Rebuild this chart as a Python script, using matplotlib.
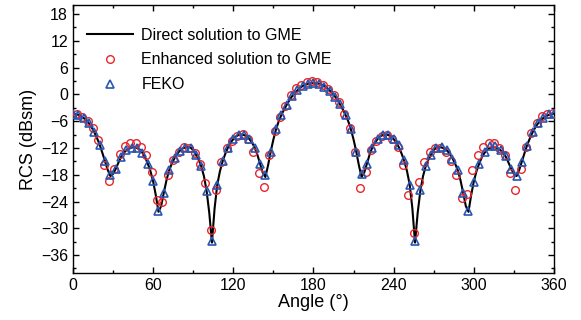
import matplotlib
matplotlib.use("Agg")
import matplotlib.pyplot as plt
from matplotlib.ticker import MultipleLocator

plt.rcParams['font.family'] = ['Liberation Sans', 'DejaVu Sans']

# Direct solution to GME (line), every 2 degrees
line_angle = list(range(0, 362, 2))
line_rcs = [
    -4.3, -4.4, -4.6, -4.9, -5.3, -5.8, -6.5, -7.4, -8.5, -9.8,
    -11.3, -13.1, -15.0, -16.9, -18.3, -17.8, -16.7, -15.3, -14.0, -13.1,
    -12.5, -12.1, -11.9, -11.8, -12.0, -12.4, -13.1, -14.1, -15.5, -17.2,
    -19.5, -22.6, -26.3, -25.0, -22.0, -19.2, -17.0, -15.5, -14.3, -13.3,
    -12.6, -12.1, -11.9, -11.8, -11.9, -12.5, -13.5, -14.6, -16.1, -18.3,
    -21.6, -26.5, -33.2, -25.5, -20.2, -17.2, -15.0, -13.3, -11.9, -10.8,
    -10.0, -9.4, -9.1, -9.0, -9.1, -9.4, -10.0, -10.8, -11.9, -13.5,
    -15.5, -17.5, -18.5, -15.9, -12.8, -10.1, -7.8, -6.0, -4.6, -3.4,
    -2.3, -1.3, -0.4, 0.3, 0.9, 1.5, 1.9, 2.2, 2.4, 2.5,
    2.5,
    2.5, 2.4, 2.2, 1.9, 1.5, 0.9, 0.3, -0.4, -1.3, -2.3,
    -3.4, -4.6, -6.0, -7.8, -10.1, -12.8, -15.9, -18.5, -17.5, -15.5,
    -13.5, -11.9, -10.8, -10.0, -9.4, -9.1, -9.0, -9.1, -9.4, -10.0,
    -10.8, -11.9, -13.3, -15.0, -17.2, -20.2, -25.5, -33.2, -26.5, -21.6,
    -18.3, -16.1, -14.6, -13.5, -12.5, -11.9, -11.8, -11.9, -12.1, -12.6,
    -13.3, -14.3, -15.5, -17.0, -19.2, -22.0, -25.0, -26.3, -22.6, -19.5,
    -17.2, -15.5, -14.1, -13.1, -12.4, -12.0, -11.8, -11.9, -12.1, -12.5,
    -13.1, -14.0, -15.3, -16.7, -17.8, -18.3, -16.9, -15.0, -13.1, -11.3,
    -9.8, -8.5, -7.4, -6.5, -5.8, -5.3, -4.9, -4.6, -4.4, -4.3,
]

# Enhanced solution to GME (circles)
enh_angle = list(range(3, 360, 4))
enh_rcs = [
    -4.5, -5.0, -6.0, -7.6, -10.3, -15.8, -19.4, -16.6, -13.4, -11.5,
    -10.8, -10.9, -11.7, -13.6, -17.3, -23.7, -24.2, -18.1, -14.7, -12.8,
    -11.7, -11.9, -13.2, -15.5, -19.9, -30.4, -21.4, -15.2, -11.9, -10.4,
    -9.3, -8.9, -10.0, -12.8, -17.5, -20.8, -13.5, -8.3, -5.0, -2.6,
    -0.1, 1.4, 2.1, 2.7, 2.9, 2.7, 2.1, 1.2, -0.1, -1.8,
    -4.4, -7.6, -13.0, -21.0, -17.4, -12.5, -10.4, -9.3, -9.1, -10.0,
    -11.8, -15.8, -22.5, -31.1, -19.7, -15.1, -12.9, -11.9, -11.9, -13.0,
    -14.9, -18.1, -23.3, -22.4, -16.9, -13.6, -11.7, -10.8, -10.8, -11.9,
    -13.6, -17.5, -21.4, -16.7, -11.7, -8.7, -6.4, -4.9, -4.4, -4.1,
]

# FEKO (triangles)
feko_angle = list(range(0, 361, 4))
feko_rcs = [
    -4.3, -4.6, -5.3, -6.5, -8.5, -11.3, -15.0, -18.0, -16.7, -14.0,
    -12.5, -11.9, -12.0, -13.1, -15.5, -19.5, -26.2, -22.0, -17.0, -14.3,
    -12.6, -11.9, -11.9, -13.5, -16.1, -21.6, -32.8, -20.2, -15.0, -11.9,
    -10.0, -9.1, -9.1, -10.0, -11.9, -15.5, -18.0, -12.8, -7.8, -4.6,
    -2.3, -0.4, 0.9, 1.9, 2.4, 2.5, 2.3, 1.7, 0.8, -0.6,
    -2.2, -4.6, -7.8, -13.0, -17.9, -15.5, -12.0, -10.0, -9.1, -9.1,
    -9.9, -11.4, -14.7, -20.3, -32.8, -21.4, -16.0, -13.6, -12.1, -11.7,
    -12.4, -14.5, -16.9, -22.1, -26.1, -19.6, -15.6, -13.0, -11.5, -11.5,
    -12.4, -13.9, -16.7, -18.2, -15.1, -11.5, -8.5, -6.4, -5.2, -4.4,
    -4.3,
]

labels = ["Direct solution to GME", "Enhanced solution to GME", "FEKO"]
yticks = [18, 12, 6, 0, -6, -12, -18, -24, -30, -36]
ytick_labels = ["18", "12", "6", "0", "\u22126", "\u221212", "\u221218",
                "\u221224", "\u221230", "\u221236"]
red = "#e8262b"
blue = "#2a56b0"

fig = plt.figure(figsize=(5.81, 3.20), dpi=100)
ax = fig.add_axes([0.1256, 0.147, 0.8279, 0.837])

ax.plot(line_angle, line_rcs, color="black", lw=1.5, label=labels[0], zorder=2)
ax.plot(enh_angle, enh_rcs, ls="none", marker="o", ms=5.5, mfc="none",
        mec=red, mew=1.0, label=labels[1], zorder=3)
ax.plot(feko_angle, feko_rcs, ls="none", marker="^", ms=6, mfc="none",
        mec=blue, mew=1.2, label=labels[2], zorder=4)

ax.set_xlim(0, 360)
ax.set_ylim(-40, 20)
ax.xaxis.set_major_locator(MultipleLocator(60))
ax.xaxis.set_minor_locator(MultipleLocator(30))
ax.yaxis.set_minor_locator(MultipleLocator(3))
ax.set_yticks(yticks)
ax.set_yticklabels(ytick_labels)
ax.tick_params(which="both", direction="in", top=True, right=True,
               labelsize=11.5, width=1, pad=3.5)
ax.tick_params(which="major", length=4.5)
ax.tick_params(which="minor", length=2.5)
for s in ax.spines.values():
    s.set_linewidth(1.0)

ax.set_xlabel("Angle (\u00b0)", fontsize=13, labelpad=1)
ax.set_ylabel("RCS (dBsm)", fontsize=13, labelpad=3)

ax.legend(loc="upper left", bbox_to_anchor=(0.016, 0.94), frameon=False,
          fontsize=11.5, handlelength=2.9, handletextpad=0.5, numpoints=1,
          labelspacing=0.62, borderaxespad=0.0)

fig.savefig("out.png", dpi=100)
